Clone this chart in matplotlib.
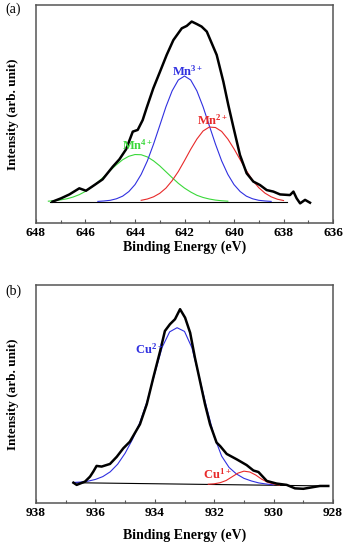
import numpy as np
import matplotlib
matplotlib.use("Agg")
import matplotlib.pyplot as plt
from matplotlib.ticker import MultipleLocator

plt.rcParams['font.family'] = ['Liberation Serif', 'DejaVu Serif']
plt.rcParams['mathtext.fontset'] = 'custom'
plt.rcParams['mathtext.rm'] = 'Liberation Serif:bold'
plt.rcParams['mathtext.bf'] = 'Liberation Serif:bold'

# ---------------- (a) Mn 2p ----------------
MN_E = [647.33, 646.99, 646.65, 646.25, 645.98, 645.64, 645.31, 644.90, 644.63,
        644.36, 644.09, 643.89, 643.69, 643.53, 643.26, 642.99, 642.72, 642.45,
        642.11, 641.91, 641.71, 641.51, 641.31, 641.10, 640.70, 640.43, 640.23,
        640.03, 639.76, 639.49, 639.22, 638.95, 638.68, 638.41, 638.14, 637.74,
        637.60, 637.47, 637.33, 637.13, 636.93]
MN_I = [0.098, 0.113, 0.131, 0.159, 0.148, 0.174, 0.200, 0.258, 0.292,
        0.338, 0.419, 0.427, 0.472, 0.528, 0.618, 0.694, 0.771, 0.839,
        0.893, 0.904, 0.924, 0.913, 0.901, 0.878, 0.771, 0.648, 0.541,
        0.442, 0.312, 0.228, 0.190, 0.174, 0.151, 0.144, 0.131, 0.128,
        0.144, 0.113, 0.090, 0.106, 0.093]

# fitted components, read on a common energy grid (nan = not drawn)
MN_GRID = [647.5, 647.25, 647.0, 646.75, 646.5, 646.25, 646.0, 645.75, 645.5,
           645.25, 645.0, 644.75, 644.5, 644.25, 644.0, 643.75, 643.5, 643.25,
           643.0, 642.75, 642.5, 642.25, 642.0, 641.75, 641.5, 641.25, 641.0,
           640.75, 640.5, 640.25, 640.0, 639.75, 639.5, 639.25, 639.0, 638.75,
           638.5, 638.25, 638.0]
nan = np.nan
MN4 = [0.100, 0.102, 0.106, 0.111, 0.119, 0.130, 0.145, 0.164, 0.187,
       0.213, 0.241, 0.267, 0.290, 0.306, 0.314, 0.313, 0.303, 0.285,
       0.262, 0.235, 0.208, 0.182, 0.160, 0.142, 0.127, 0.117, 0.110,
       0.105, 0.102, 0.100, nan, nan, nan, nan, nan, nan,
       nan, nan, nan]
MN3 = [nan, nan, nan, nan, nan, nan, nan, nan, 0.099,
       0.101, 0.104, 0.111, 0.123, 0.144, 0.176, 0.223, 0.285, 0.362,
       0.447, 0.533, 0.606, 0.656, 0.674, 0.656, 0.606, 0.533, 0.447,
       0.362, 0.285, 0.223, 0.176, 0.144, 0.123, 0.111, 0.104, 0.101,
       0.099, nan, nan]
MN2 = [nan, nan, nan, nan, nan, nan, nan, nan, nan,
       nan, nan, nan, nan, nan, nan, 0.104, 0.110, 0.120,
       0.136, 0.160, 0.194, 0.236, 0.286, 0.338, 0.385, 0.422, 0.440,
       0.438, 0.420, 0.385, 0.340, 0.290, 0.240, 0.196, 0.162, 0.137,
       0.120, 0.109, 0.103]
MN_BASE_E = [647.43, 637.87]
MN_BASE_I = [0.098, 0.098]
MN_TICKS = [648, 646, 644, 642, 640, 638, 636]

# ---------------- (b) Cu 2p3/2 ----------------
CU_E = [936.74, 936.63, 936.35, 936.18, 936.07, 935.96, 935.79, 935.51, 935.28,
        935.06, 934.84, 934.50, 934.27, 934.05, 933.82, 933.66, 933.49, 933.32,
        933.15, 932.98, 932.81, 932.65, 932.48, 932.31, 932.14, 931.92, 931.80,
        931.58, 931.24, 930.91, 930.68, 930.51, 930.23, 929.90, 929.56, 929.28,
        929.00, 928.66, 928.44, 928.16]
CU_I = [0.093, 0.083, 0.098, 0.121, 0.144, 0.170, 0.167, 0.179, 0.212,
        0.251, 0.281, 0.361, 0.453, 0.575, 0.697, 0.789, 0.820, 0.843,
        0.889, 0.850, 0.781, 0.667, 0.560, 0.453, 0.361, 0.277, 0.261,
        0.225, 0.200, 0.174, 0.149, 0.142, 0.101, 0.089, 0.083, 0.067,
        0.065, 0.073, 0.078, 0.078]

CU2_E = [936.75, 936.5, 936.25, 936.0, 935.75, 935.5, 935.25, 935.0, 934.75,
         934.5, 934.25, 934.0, 933.75, 933.5, 933.25, 933.0, 932.75, 932.5,
         932.25, 932.0, 931.75, 931.5, 931.25, 931.0, 930.75, 930.5, 930.25,
         930.0]
CU2_I = [0.094, 0.096, 0.100, 0.108, 0.121, 0.143, 0.178, 0.228, 0.292,
         0.370, 0.470, 0.595, 0.715, 0.785, 0.804, 0.787, 0.712, 0.575,
         0.435, 0.305, 0.215, 0.163, 0.133, 0.113, 0.101, 0.092, 0.087,
         0.083]
CU1_E = [932.2, 932.0, 931.8, 931.6, 931.4, 931.2, 931.0, 930.8, 930.6,
         930.4, 930.2, 930.0, 929.8]
CU1_I = [0.086, 0.088, 0.093, 0.103, 0.120, 0.137, 0.146, 0.142, 0.128,
         0.109, 0.095, 0.087, 0.082]
CU_BASE_E = [936.74, 928.16]
CU_BASE_I = [0.093, 0.078]
CU_TICKS = [938, 936, 934, 932, 930, 928]

BLUE = "#3030e0"
RED = "#e82a2a"
GREEN = "#3ad83a"
FRAME = "#555555"


def style_axes(ax, xlim, ticks):
    ax.set_xlim(*xlim)
    ax.set_ylim(0, 1)
    ax.set_xticks(ticks)
    ax.xaxis.set_minor_locator(MultipleLocator(1))
    ax.set_yticks([])
    ax.tick_params(axis="x", which="major", direction="in", length=3,
                   width=0.8, color=FRAME, labelsize=9.5, pad=3)
    ax.tick_params(axis="x", which="minor", direction="in", length=2,
                   width=0.8, color=FRAME)
    for lab in ax.get_xticklabels():
        lab.set_fontweight("bold")
    for sp in ax.spines.values():
        sp.set_color(FRAME)
        sp.set_linewidth(1.1)
    ax.set_ylabel("Intensity (arb. unit)", fontsize=9.5, fontweight="bold")
    ax.yaxis.set_label_coords(-0.058, 0.5)


fig = plt.figure(figsize=(3.45, 5.42), dpi=100)
ax1 = fig.add_axes([0.1043, 0.5886, 0.861, 0.4022])
ax2 = fig.add_axes([0.1043, 0.0720, 0.861, 0.4022])

# panel (a)
ax1.plot(MN_BASE_E, MN_BASE_I, color="black", lw=0.8)
ax1.plot(MN_GRID, MN4, color=GREEN, lw=0.8)
ax1.plot(MN_GRID, MN3, color=BLUE, lw=0.8)
ax1.plot(MN_GRID, MN2, color=RED, lw=0.8)
ax1.plot(MN_E, MN_I, color="black", lw=1.8)
style_axes(ax1, (648, 636), MN_TICKS)
ax1.set_xlabel("Binding Energy (eV)", fontsize=10, fontweight="bold")
ax1.xaxis.set_label_coords(0.5, -0.08)
ax1.text(641.86, 0.695, r"$\mathbf{Mn^{3+}}$", color=BLUE, fontsize=9,
         ha="center", va="center")
ax1.text(640.85, 0.47, r"$\mathbf{Mn^{2+}}$", color=RED, fontsize=9,
         ha="center", va="center")
ax1.text(643.88, 0.355, r"$\mathbf{Mn^{4+}}$", color=GREEN, fontsize=9,
         ha="center", va="center")

# panel (b)
ax2.plot(CU_BASE_E, CU_BASE_I, color="black", lw=0.8)
ax2.plot(CU2_E, CU2_I, color=BLUE, lw=0.8)
ax2.plot(CU1_E, CU1_I, color=RED, lw=0.8)
ax2.plot(CU_E, CU_I, color="black", lw=1.8)
style_axes(ax2, (938, 928), CU_TICKS)
ax2.set_xlabel("Binding Energy (eV)", fontsize=10, fontweight="bold")
ax2.xaxis.set_label_coords(0.5, -0.119)
ax2.text(934.18, 0.705, r"$\mathbf{Cu^{2+}}$", color=BLUE, fontsize=9,
         ha="center", va="center")
ax2.text(931.89, 0.133, r"$\mathbf{Cu^{1+}}$", color=RED, fontsize=9,
         ha="center", va="center")

fig.text(5 / 345, 1 - 3 / 542, "(a)", fontsize=10, va="top", ha="left")
fig.text(5 / 345, 1 - 285 / 542, "(b)", fontsize=10, va="top", ha="left")

fig.savefig("out.png", dpi=100)
